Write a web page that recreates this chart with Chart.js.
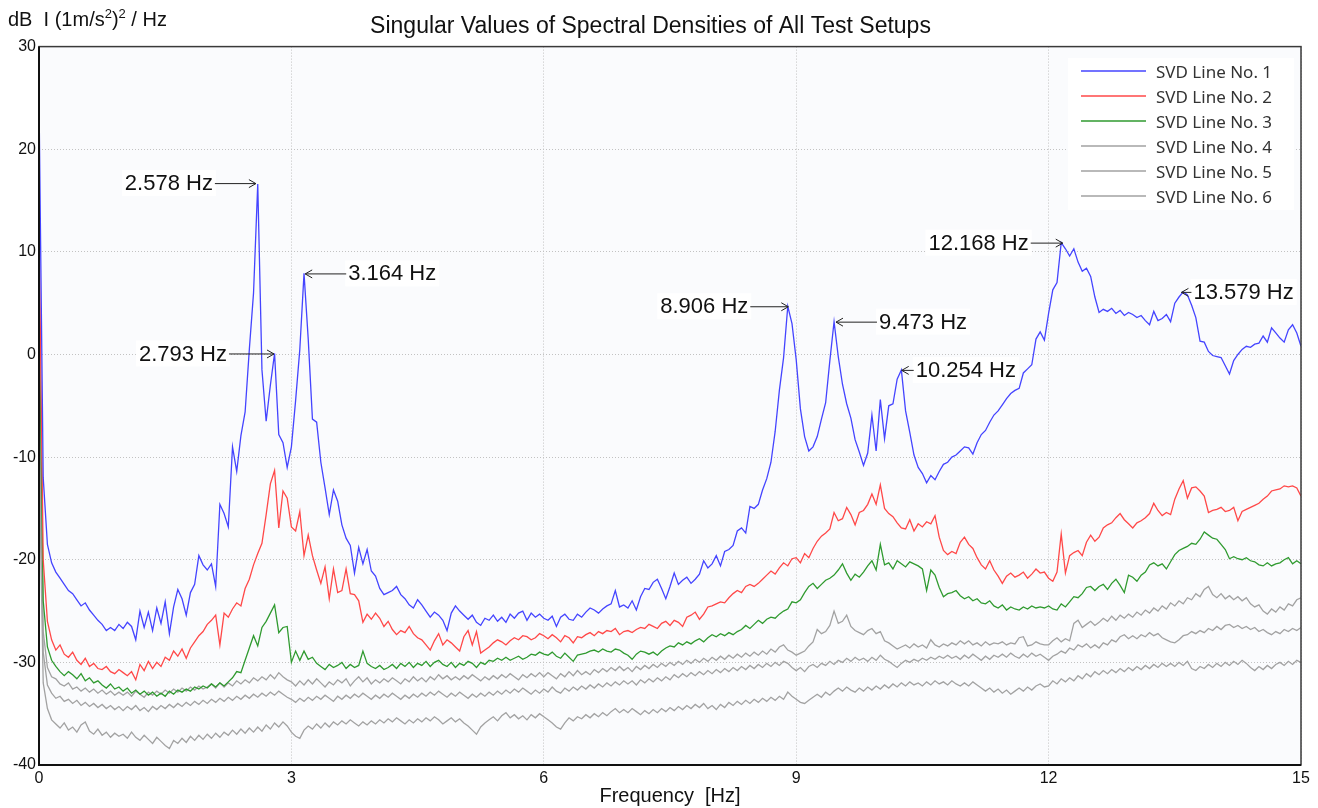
<!DOCTYPE html>
<html>
<head>
<meta charset="utf-8">
<script src="https://cdn.jsdelivr.net/npm/chart.js@4.4.1/dist/chart.umd.min.js"></script>
<style>
  html, body { margin: 0; padding: 0; background: #fff; }
</style>
</head>
<body>
<canvas id="chart" width="1318" height="808"></canvas>
<script>
// spectrum, 0.05 Hz steps, dB re (1 m/s^2)^2 / Hz
chartTitle = 'Singular Values of Spectral Densities of All Test Setups'
seriesNames = ['SVD Line No. 1', 'SVD Line No. 2', 'SVD Line No. 3', 'SVD Line No. 4', 'SVD Line No. 5', 'SVD Line No. 6']

freqs = []
for (let i = 0; i <= 300; i++) freqs.push(+(i * 0.05).toFixed(2))

svdLine1 = [
  25, -12, -18.5, -20.3, -21.2, -21.8, -22.4, -23.0, -23.3, -23.9, -24.5, -24.2, -24.9, -25.4, -25.9, -26.3, -26.9, -26.6, -26.9, -26.3,
  -26.7, -26.1, -26.5, -27.8, -25.0, -26.6, -25.1, -26.9, -24.7, -26.2, -24.1, -27.2, -24.6, -22.9, -23.8, -25.4, -23.2, -22.4, -19.6, -20.5,
  -21.0, -20.4, -22.6, -14.6, -15.5, -16.8, -9.0, -11.4, -7.9, -5.6, 0.5, 6.0, 16.6, -1.5, -6.5, -3.0, 0.1, -7.8, -8.6, -11.0,
  -9.0, -4.5, 0.5, 7.9, 1.5, -6.3, -6.6, -10.5, -13.0, -15.6, -13.2, -14.3, -16.6, -17.9, -18.6, -21.3, -18.8, -20.4, -19.0, -21.1,
  -21.6, -22.8, -23.4, -23.2, -23.0, -22.6, -23.4, -23.8, -24.4, -24.7, -23.9, -24.4, -25.0, -25.6, -25.1, -25.4, -25.9, -26.9, -25.2, -24.5,
  -25.0, -25.4, -25.8, -25.4, -26.1, -26.4, -25.7, -25.9, -25.4, -26.0, -25.6, -26.1, -25.3, -25.7, -25.2, -25.0, -25.9, -25.2, -25.6, -25.3,
  -25.7, -25.9, -25.5, -26.5, -25.6, -25.3, -25.8, -25.9, -25.3, -25.6, -25.1, -24.7, -24.9, -25.2, -24.8, -24.5, -24.3, -23.0, -24.6, -24.4,
  -24.7, -24.0, -24.9, -23.6, -22.8, -22.9, -22.2, -21.9, -22.8, -23.8, -22.6, -21.3, -22.4, -22.0, -21.7, -22.3, -21.9, -21.4, -20.1, -20.8,
  -20.4, -19.6, -20.6, -19.2, -19.0, -18.6, -17.2, -16.9, -17.4, -14.8, -15.0, -14.6, -13.2, -12.1, -10.5, -7.5, -3.5, -0.3, 4.7, 3.0,
  -0.5, -5.3, -8.0, -9.4, -9.0, -8.0, -6.3, -4.7, -0.6, 3.2, -0.2, -2.9, -4.8, -6.2, -8.3, -9.5, -10.8, -9.6, -5.9, -9.4,
  -4.4, -8.2, -5.0, -4.8, -2.4, -1.5, -5.5, -7.6, -9.8, -11.0, -11.6, -12.5, -11.8, -12.2, -11.4, -10.7, -10.5, -10.0, -9.8, -9.4,
  -9.0, -9.1, -9.7, -8.6, -7.8, -7.4, -6.6, -5.9, -5.5, -4.9, -4.3, -3.8, -3.5, -3.3, -1.8, -1.4, -1.0, 1.5, 2.2, 1.4,
  4.0, 6.3, 7.0, 10.9, 10.3, 9.6, 10.3, 9.0, 8.1, 8.4, 7.6, 5.6, 4.1, 4.4, 4.2, 4.5, 4.0, 4.3, 3.8, 4.1,
  3.9, 3.6, 3.8, 3.3, 2.9, 4.2, 3.3, 3.5, 3.9, 3.2, 5.0, 5.6, 6.1, 5.8, 4.8, 3.6, 1.3, 1.2, 0.3, -0.1,
  -0.2, -0.3, -1.1, -1.9, -0.6, 0.0, 0.5, 0.8, 0.7, 1.0, 1.1, 1.8, 1.2, 2.6, 2.1, 1.6, 1.2, 2.4, 2.9, 2.1, 0.8
]

svdLine2 = [
  13, -20, -26, -27.8, -28.8, -28.3, -29.2, -29.5, -29.0, -29.8, -30.2, -29.6, -30.4, -30.1, -30.6, -30.7, -30.4, -30.9, -31.1, -30.7,
  -31.0, -31.3, -30.9, -31.7, -30.2, -30.8, -29.9, -30.6, -30.0, -30.4, -29.5, -29.8, -28.9, -29.4, -28.7, -29.6, -28.6, -28.0, -27.4, -27.0,
  -26.3, -25.9, -25.4, -28.3, -25.2, -25.6, -24.8, -24.2, -24.5, -22.8, -21.9, -20.5, -19.4, -18.4, -15.6, -12.6, -11.3, -16.9, -13.3, -14.0,
  -16.8, -17.2, -15.3, -19.6, -17.6, -19.6, -21.0, -22.3, -20.7, -23.8, -20.9, -23.2, -23.0, -20.9, -23.3, -23.4, -24.0, -26.1, -25.3, -25.8,
  -25.2, -25.7, -26.5, -26.0, -26.8, -27.3, -26.9, -27.1, -26.5, -27.2, -27.6, -27.8, -28.3, -28.8, -27.9, -27.2, -28.3, -27.8, -28.1, -28.5,
  -28.9, -27.5, -26.9, -28.3, -27.0, -29.1, -28.8, -28.5, -28.1, -27.8, -28.0, -28.3, -27.9, -27.6, -27.8, -27.4, -27.5, -27.8, -27.6, -27.2,
  -27.4, -27.7, -27.3, -27.6, -28.0, -27.4, -27.6, -28.1, -27.5, -27.6, -27.3, -27.1, -27.4, -27.0, -27.2, -26.9, -27.0, -26.7, -27.3, -27.0,
  -26.9, -27.1, -26.8, -26.6, -26.7, -26.3, -26.5, -26.7, -26.2, -26.0, -26.4, -25.9, -26.1, -26.5, -25.6, -25.4, -25.1, -25.8, -25.3, -24.6,
  -24.5, -24.3, -24.1, -24.2, -23.7, -23.3, -23.0, -23.2, -22.6, -22.4, -22.6, -22.3, -21.9, -21.5, -21.1, -21.4, -20.8, -20.3, -20.6, -19.9,
  -19.8, -20.3, -19.4, -19.8, -18.9, -18.2, -17.7, -17.4, -17.0, -15.4, -16.2, -16.0, -14.9, -15.6, -16.6, -15.4, -15.2, -14.6, -13.6, -14.6,
  -12.7, -15.0, -15.5, -15.8, -16.4, -16.9, -17.0, -16.1, -17.2, -16.5, -16.8, -16.3, -16.5, -15.7, -17.8, -19.1, -19.5, -19.2, -19.4, -18.3,
  -17.8, -18.5, -18.9, -19.8, -20.5, -20.9, -20.1, -21.0, -21.6, -22.3, -21.6, -21.3, -21.7, -21.5, -21.2, -21.8, -21.4, -20.9, -21.3, -21.2,
  -21.8, -22.1, -21.2, -17.5, -21.3, -19.6, -19.3, -19.1, -19.6, -18.3, -17.6, -18.2, -17.8, -16.9, -16.6, -16.4, -15.9, -15.5, -16.1, -16.5,
  -16.9, -16.4, -16.2, -15.9, -15.5, -14.5, -15.2, -15.7, -15.4, -15.6, -14.1, -13.1, -12.3, -14.0, -13.0, -12.9, -13.3, -13.8, -15.4, -15.2,
  -15.1, -14.9, -15.3, -15.2, -14.9, -16.2, -15.3, -15.1, -14.9, -14.7, -14.5, -14.1, -13.8, -13.3, -13.2, -13.1, -12.8, -12.9, -12.8, -13.0, -13.8
]

svdLine3 = [
  5, -24, -28.5, -29.8, -30.4, -30.9, -31.3, -30.9, -31.2, -31.6, -31.1, -31.8, -31.5, -32.0, -31.8, -32.2, -32.5, -32.1, -32.6, -32.4,
  -32.8, -32.5, -33.0, -32.7, -33.1, -32.8, -33.2, -32.9, -33.3, -33.0, -33.3, -32.8, -33.1, -32.7, -32.9, -32.6, -32.8, -32.4, -32.6, -32.3,
  -32.5, -32.1, -32.4, -32.0, -32.3, -31.9, -31.5, -30.9, -31.0, -29.8, -28.6, -27.4, -28.4, -26.6, -26.0, -25.2, -24.4, -27.1, -26.6, -26.5,
  -30.0, -28.9, -29.8, -28.9, -29.7, -29.5, -30.1, -30.4, -30.7, -30.2, -30.5, -30.3, -30.0, -30.6, -30.2, -30.5, -30.3, -28.9, -30.1, -30.4,
  -30.6, -30.3, -30.7, -30.5, -30.2, -30.6, -30.1, -30.4, -30.0, -30.5, -30.1, -30.3, -29.9, -30.4, -30.0, -29.8, -30.2, -30.4, -30.0, -30.5,
  -30.1, -30.3, -29.9, -30.1, -30.5, -30.0, -30.2, -29.8, -29.9, -29.6, -29.8, -29.5, -29.8, -29.6, -29.4, -29.7, -29.5, -29.2, -29.3, -29.0,
  -29.2, -29.3, -29.0, -29.4, -29.6, -29.1, -29.5, -29.9, -29.3, -29.2, -29.1, -28.9, -28.8, -29.0, -28.7, -28.9, -29.0, -28.7, -28.8, -29.1,
  -29.3, -29.7, -29.2, -28.9, -29.0, -29.2, -29.0, -29.3, -28.9, -28.6, -28.4, -28.5, -28.1, -28.3, -28.0, -28.2, -27.9, -27.7, -28.0, -27.6,
  -27.3, -27.5, -27.2, -27.4, -27.1, -27.3, -27.0, -26.8, -26.4, -26.7, -26.3, -25.9, -26.2, -25.8, -25.6, -25.7, -25.3, -25.0, -24.8, -24.1,
  -24.2, -23.9, -23.2, -22.6, -22.3, -22.8, -22.4, -22.0, -21.8, -21.5, -21.0, -20.4, -21.3, -22.0, -21.4, -21.7, -21.2, -20.6, -20.1, -21.0,
  -18.5, -20.5, -20.3, -20.9, -20.1, -20.4, -20.7, -20.2, -20.4, -20.6, -20.9, -23.0, -21.0, -21.5, -22.7, -23.6, -23.3, -23.2, -23.0, -23.5,
  -23.8, -23.6, -24.0, -23.8, -24.2, -24.3, -24.0, -24.5, -24.7, -24.4, -24.9, -24.6, -24.8, -24.9, -24.6, -24.8, -24.5, -24.7, -24.6, -24.7,
  -24.5, -24.8, -24.9, -24.3, -24.6, -24.1, -23.6, -23.7, -23.3, -22.7, -22.6, -23.0, -22.6, -22.4, -22.9, -22.3, -21.9, -22.5, -23.2, -21.5,
  -21.7, -22.1, -21.5, -21.2, -20.5, -20.3, -20.6, -20.4, -20.9, -20.2, -19.5, -19.1, -18.9, -18.7, -18.4, -18.5, -18.0, -17.3, -17.6, -17.9,
  -18.0, -18.5, -19.0, -19.9, -19.7, -19.9, -20.0, -19.8, -20.1, -20.2, -20.5, -20.6, -20.3, -20.6, -20.4, -20.3, -20.0, -19.8, -20.4, -20.1, -20.4
]

svdLine4 = [
  0, -27, -30.5, -31.4, -31.6, -32.1, -32.3, -32.0, -32.6, -32.4, -32.8, -32.5, -32.9, -32.6, -33.0, -32.7, -33.1, -32.8, -33.2, -32.9,
  -33.2, -32.9, -33.3, -32.8, -33.1, -33.4, -32.9, -33.2, -32.8, -33.1, -32.7, -33.0, -32.6, -32.9, -32.5, -32.8, -32.4, -32.7, -32.3, -32.6,
  -32.4, -32.1, -32.5, -32.0, -32.4, -32.0, -32.3, -31.8, -32.1, -31.7, -32.0, -31.5, -31.8, -31.4, -31.7, -31.2, -31.6, -31.0, -31.4, -31.7,
  -31.9, -32.3, -31.8, -32.2, -31.7, -32.1, -31.6, -32.0, -32.4, -31.9, -32.2, -31.7, -32.0, -31.6, -32.3, -31.8, -31.4, -31.9, -31.5, -32.1,
  -31.7, -32.0, -31.6, -31.9, -31.5, -31.8, -32.1, -31.6, -31.9, -31.4, -31.8, -31.5, -31.9, -31.4, -31.7, -31.2, -31.6, -31.3, -31.7, -31.4,
  -31.7, -31.3, -31.6, -31.2, -31.5, -31.8, -31.4, -31.7, -31.3, -31.6, -31.2, -31.5, -31.1, -31.4, -31.7, -31.2, -31.5, -31.1, -31.4, -31.0,
  -31.4, -31.0, -31.3, -31.6, -31.1, -31.4, -30.9, -31.3, -30.8, -31.2, -30.9, -31.2, -30.7, -31.0, -30.6, -30.9, -30.5, -30.8, -30.4, -30.8,
  -30.5, -30.9, -30.4, -30.7, -30.3, -30.6, -30.2, -30.5, -30.1, -30.4, -30.0, -30.3, -29.9, -30.2, -29.8, -30.1, -29.7, -30.0, -29.6, -29.9,
  -29.5, -29.8, -29.4, -29.7, -29.3, -29.6, -29.2, -29.5, -29.1, -29.4, -29.0, -29.3, -28.9, -29.2, -28.7, -29.0, -28.5, -28.3, -28.8, -29.0,
  -29.3, -29.1, -28.9, -28.4, -28.0, -26.8, -27.2, -27.0, -26.4, -25.0, -26.2, -26.0, -25.4, -26.5, -26.9, -27.1, -27.3, -26.9, -26.7, -27.2,
  -27.0, -27.9, -28.1, -28.4, -28.7, -28.5, -28.3, -28.6, -28.2, -28.5, -28.3, -28.6, -27.8, -28.3, -28.5, -28.2, -28.4, -28.1, -28.3, -27.9,
  -28.2, -27.9, -28.3, -28.1, -28.4, -28.0, -28.3, -28.1, -28.2, -28.0, -28.3, -28.1, -28.2, -27.6, -27.5, -28.4, -28.3, -28.0, -28.2, -28.3,
  -28.3, -27.9, -27.6, -28.0, -27.7, -27.9, -26.2, -25.9, -26.6, -26.3, -26.0, -26.4, -26.1, -25.7, -26.0, -25.5, -25.9, -25.4, -25.7, -25.3,
  -25.6, -25.1, -25.4, -24.9, -25.2, -24.7, -25.0, -24.5, -24.8, -24.2, -24.5, -24.0, -24.3, -23.7, -23.9, -23.3, -23.6, -22.9, -22.6, -23.4,
  -23.7, -23.3, -23.8, -23.5, -23.9, -23.6, -24.0, -23.7, -24.3, -24.6, -24.4, -25.0, -25.3, -24.8, -25.1, -24.6, -24.9, -24.3, -24.5, -23.9, -23.7
]

svdLine5 = [
  -5, -29, -32.2, -33.0, -33.5, -33.3, -33.8, -33.6, -34.0, -33.7, -34.2, -33.9, -34.3, -34.0, -34.4, -34.1, -34.5, -34.2, -34.6, -34.3,
  -34.7, -34.3, -34.6, -34.2, -34.7, -34.4, -34.8, -34.3, -34.6, -34.2, -34.5, -34.1, -34.4, -34.0, -34.3, -33.9, -34.2, -33.8, -34.1, -33.7,
  -34.0, -33.6, -33.9, -33.5, -33.8, -33.4, -33.7, -33.3, -33.6, -33.2, -33.5, -33.1, -33.4, -33.0, -33.3, -32.9, -33.2, -32.8, -33.1, -33.4,
  -33.6, -33.9, -33.5, -33.8, -33.4, -33.7, -33.3, -33.6, -33.2, -33.5, -33.8, -33.3, -33.6, -33.2, -33.5, -33.1, -33.4, -33.0, -33.3, -33.6,
  -33.2, -33.5, -33.1, -33.4, -33.0, -33.3, -33.6, -33.2, -33.5, -33.1, -33.4, -33.0, -33.3, -32.9, -33.2, -32.8, -33.1, -33.4, -33.0, -33.3,
  -32.9, -33.2, -33.5, -33.1, -33.4, -33.0, -33.3, -32.9, -33.2, -32.8, -33.1, -32.7, -33.0, -32.6, -32.9, -32.5, -32.8, -33.1, -32.7, -33.0,
  -32.6, -32.9, -32.4, -32.8, -33.0, -32.5, -32.8, -32.4, -32.7, -32.3, -32.6, -32.2, -32.5, -32.1, -32.4, -32.0, -32.3, -31.9, -32.2, -31.8,
  -32.1, -31.8, -32.2, -31.7, -32.0, -31.6, -31.9, -31.5, -31.8, -31.4, -31.7, -31.2, -31.5, -31.1, -31.4, -31.0, -31.3, -30.9, -31.2, -30.8,
  -31.1, -30.7, -31.0, -30.6, -30.9, -30.5, -30.8, -30.4, -30.7, -30.3, -30.6, -30.2, -30.5, -30.1, -30.4, -30.0, -30.3, -29.9, -30.1, -30.5,
  -30.8, -30.5, -30.9, -30.4, -30.2, -30.5, -30.1, -30.3, -29.9, -30.2, -29.8, -30.0, -29.6, -29.9, -29.5, -29.8, -29.6, -29.9, -29.5, -29.8,
  -29.3, -29.7, -29.9, -30.2, -30.5, -30.1, -29.8, -30.0, -29.7, -29.9, -29.6, -29.8, -29.5, -29.7, -29.4, -29.6, -29.3, -29.6, -29.4, -29.7,
  -29.3, -29.6, -29.2, -29.5, -29.8, -29.4, -29.7, -29.3, -29.5, -29.2, -29.5, -29.1, -29.4, -29.6, -29.2, -29.5, -29.1, -29.4, -29.2, -29.5,
  -29.8, -29.4, -29.2, -28.9, -29.1, -28.6, -28.8, -28.3, -28.5, -28.2, -28.6, -28.3, -28.6, -28.1, -28.3, -27.8, -28.0, -27.5, -27.3, -27.7,
  -27.4, -27.7, -27.3, -27.5, -27.1, -27.4, -27.2, -27.6, -27.8, -28.0, -28.1, -27.8, -27.4, -27.3, -27.0, -27.2, -26.9, -27.1, -26.7, -26.9,
  -26.5, -26.8, -26.4, -26.3, -26.6, -26.4, -26.7, -26.5, -26.8, -26.6, -27.0, -26.8, -27.1, -27.3, -27.0, -27.2, -26.8, -27.0, -26.7, -26.9, -26.6
]

svdLine6 = [
  -10, -32, -34.5, -35.6, -36.0, -36.4, -35.9, -36.6, -36.3, -36.8, -36.1, -35.8, -36.7, -37.0, -36.5, -37.1, -36.8, -37.3, -36.9, -37.2,
  -37.0, -37.4, -36.8, -37.3, -37.6, -37.1, -37.5, -37.9, -37.3, -37.7, -38.1, -38.4, -37.6, -37.9, -37.4, -37.8, -37.2, -37.6, -37.1, -37.5,
  -37.0, -37.4, -36.9, -37.3, -36.8, -37.1, -36.6, -37.0, -36.5, -36.9, -36.4, -36.8, -36.3, -36.7, -36.1, -36.5, -35.9, -36.3, -35.8, -36.2,
  -36.8, -37.2, -37.4, -36.6, -36.2, -36.5, -36.0, -36.4, -35.9, -36.3, -35.8, -36.1, -35.7, -36.0, -35.6, -35.9, -36.2, -35.8, -36.1, -35.7,
  -36.0, -35.6, -35.9, -35.5, -35.8, -35.4, -35.7, -36.0, -35.6, -35.9, -35.5, -35.8, -35.4, -35.7, -35.3, -35.6, -36.0, -35.7, -35.4, -35.8,
  -35.5, -35.9, -36.2, -36.6, -37.0, -36.3, -35.9, -35.6, -35.3, -35.7, -35.2, -34.9, -35.4, -35.1, -35.5, -35.2, -35.6, -35.1, -35.4, -35.0,
  -35.3, -35.6, -35.9, -36.3, -36.5, -35.9, -35.4, -35.7, -35.3, -35.5, -35.1, -35.4, -35.0, -35.3, -34.9, -35.2, -34.8, -34.5, -34.9, -34.6,
  -34.9, -34.5, -34.8, -35.1, -34.7, -35.0, -34.6, -34.9, -34.5, -34.8, -34.4, -34.7, -34.3, -34.6, -34.2, -34.5, -34.1, -34.4, -34.0, -34.5,
  -34.2, -34.6, -34.1, -34.4, -33.9, -34.2, -33.8, -34.1, -33.7, -34.0, -33.6, -33.9, -33.5, -33.8, -33.4, -33.7, -33.3, -33.6, -32.9, -33.3,
  -33.6, -33.9, -34.0, -33.7, -33.4, -33.1, -33.4, -32.9, -33.2, -32.8, -32.5, -32.8, -32.4, -32.7, -32.9, -32.5, -32.8, -32.4, -32.7, -32.3,
  -32.6, -32.2, -32.5, -32.1, -32.4, -32.0, -32.3, -31.9, -32.2, -32.0, -32.3, -31.9, -32.2, -31.8, -32.1, -31.9, -32.2, -31.8, -32.1, -32.3,
  -32.0, -32.3, -31.9, -32.2, -32.5, -32.8, -32.5, -32.9, -32.6, -33.0, -32.7, -33.1, -32.8, -32.5, -32.8, -32.4, -32.7, -32.3, -32.1, -32.4,
  -32.3, -31.8, -32.1, -31.6, -31.9, -31.5, -31.8, -31.3, -31.6, -31.1, -31.4, -30.9, -31.2, -30.8, -31.1, -30.7, -31.0, -30.6, -30.9, -30.5,
  -30.8, -30.4, -30.7, -30.3, -30.6, -30.2, -30.5, -30.1, -30.4, -30.1, -30.4, -30.0, -30.3, -29.9, -30.6, -30.8, -30.4, -30.6, -30.2, -30.5,
  -30.1, -30.4, -30.0, -30.3, -29.9, -30.2, -29.8, -30.1, -30.5, -30.8, -30.4, -30.7, -30.3, -30.6, -30.2, -30.0, -30.3, -29.9, -30.2, -29.8, -30.0
]

// picked peaks
peakLabels = ['2.578 Hz', '2.793 Hz', '3.164 Hz', '8.906 Hz', '9.473 Hz', '10.254 Hz', '12.168 Hz', '13.579 Hz']
peakFreqs = [2.578, 2.793, 3.164, 8.906, 9.473, 10.254, 12.168, 13.579]
peakLevels = [16.7, 0.1, 7.9, 4.7, 3.2, -1.5, 10.9, 6.1]

lineColors = ['#4444ff', '#ff4848', '#2f9a2f', '#a2a2a2', '#a2a2a2', '#a2a2a2']
// where each peak label sits relative to its arrow
arrowSide = ['left', 'left', 'right', 'left', 'right', 'right', 'left', 'right']
arrowLen = [41, 45, 41, 38, 41, 12, 32, 10]

var FONT = '"Liberation Sans", Arial, sans-serif'

var allSeries = [svdLine1, svdLine2, svdLine3, svdLine4, svdLine5, svdLine6]
var datasets = allSeries.map(function (vals, k) {
	return {
		label: seriesNames[k],
		data: vals.map(function (v, i) { return {x: freqs[i], y: v} }),
		borderColor: lineColors[k],
		borderWidth: 1.3,
		pointRadius: 0,
		tension: 0,
		fill: false
	}
})

function labelBox(ctx, x, y, i) {
	var tx = x.getPixelForValue(peakFreqs[i])
	var ty = y.getPixelForValue(peakLevels[i])
	var dir = arrowSide[i] == 'left' ? -1 : 1
	var tail = tx + dir * arrowLen[i]
	ctx.font = '22px ' + FONT
	var w = ctx.measureText(peakLabels[i]).width
	var textX = dir < 0 ? tail - 2 - w : tail + 2
	return {tx: tx, ty: ty, dir: dir, tail: tail, w: w, textX: textX}
}

var decorations = {
	id: 'decorations',
	beforeDraw: function (chart) {
		var ctx = chart.ctx, a = chart.chartArea
		ctx.save()
		ctx.fillStyle = '#ffffff'
		ctx.fillRect(0, 0, chart.width, chart.height)
		ctx.fillStyle = '#fafbfd'
		ctx.fillRect(a.left, a.top, a.right - a.left, a.bottom - a.top)
		ctx.restore()
	},
	beforeDatasetsDraw: function (chart) {
		// white patches behind labels and legend hide the grid
		var ctx = chart.ctx, x = chart.scales.x, y = chart.scales.y
		ctx.save()
		ctx.fillStyle = '#ffffff'
		for (var i = 0; i < peakFreqs.length; i++) {
			var b = labelBox(ctx, x, y, i)
			ctx.fillRect(b.textX - 3, b.ty - 13, b.w + 6, 26)
		}
		ctx.fillRect(1068, 58, 226, 152)
		ctx.restore()
	},
	afterDatasetsDraw: function (chart) {
		var ctx = chart.ctx, a = chart.chartArea, x = chart.scales.x, y = chart.scales.y
		ctx.save()

		// frame
		ctx.strokeStyle = '#3a3a3a'
		ctx.lineWidth = 1.5
		ctx.strokeRect(a.left, a.top, a.right - a.left, a.bottom - a.top)
		ctx.strokeStyle = '#111'
		ctx.lineWidth = 2
		ctx.beginPath()
		ctx.moveTo(a.left, a.top)
		ctx.lineTo(a.left, a.bottom)
		ctx.lineTo(a.right, a.bottom)
		ctx.stroke()

		// peak labels with arrows
		for (var i = 0; i < peakFreqs.length; i++) {
			var b = labelBox(ctx, x, y, i)
			ctx.fillStyle = '#111'
			ctx.textAlign = 'left'
			ctx.textBaseline = 'middle'
			ctx.fillText(peakLabels[i], b.textX, b.ty + 1)
			ctx.strokeStyle = '#222'
			ctx.lineWidth = 1
			ctx.beginPath()
			ctx.moveTo(b.tail, b.ty + 0.5)
			ctx.lineTo(b.tx, b.ty + 0.5)
			ctx.moveTo(b.tx + b.dir * 7, b.ty - 3.5)
			ctx.lineTo(b.tx, b.ty + 0.5)
			ctx.lineTo(b.tx + b.dir * 7, b.ty + 4.5)
			ctx.stroke()
		}

		// legend
		ctx.font = '17px "Noto Sans", "Open Sans", sans-serif'
		ctx.textBaseline = 'middle'
		for (var k = 0; k < seriesNames.length; k++) {
			var ly = 71 + k * 25
			ctx.strokeStyle = lineColors[k]
			ctx.lineWidth = 1.5
			ctx.beginPath()
			ctx.moveTo(1081, ly)
			ctx.lineTo(1146, ly)
			ctx.stroke()
			ctx.fillStyle = '#333'
			ctx.fillText(seriesNames[k], 1156, ly + 2)
		}

		// unit label top-left, with superscripts
		var ux = 8, uy = 26
		var parts = [['dB  I (1m/s', false], ['2', true], [')', false], ['2', true], [' / Hz', false]]
		ctx.fillStyle = '#111'
		ctx.textBaseline = 'alphabetic'
		for (var p of parts) {
			ctx.font = (p[1] ? '13px ' : '20px ') + FONT
			ctx.fillText(p[0], ux, p[1] ? uy - 8 : uy)
			ux += ctx.measureText(p[0]).width
		}
		ctx.restore()
	}
}

var chrt = document.getElementById('chart').getContext('2d')
var chartId = new Chart(chrt, {
	type: 'line',
	data: { datasets: datasets },
	options: {
		responsive: false,
		animation: false,
		layout: { padding: { left: 0, right: 17, top: 0, bottom: 0 } },
		plugins: {
			legend: { display: false },
			tooltip: { enabled: false },
			title: {
				display: true,
				text: chartTitle,
				color: '#111',
				font: { family: FONT, size: 23, weight: 'normal' },
				lineHeight: 1.15,
				padding: { top: 13, bottom: 6 }
			}
		},
		scales: {
			x: {
				type: 'linear',
				min: 0,
				max: 15,
				afterFit: function (s) { s.height = 43 },
				ticks: { stepSize: 3, padding: 4, maxRotation: 0, color: '#111', font: { family: FONT, size: 16 } },
				grid: { color: '#c2c2c2', lineWidth: 1, drawTicks: false },
				border: { display: false, dash: [1, 2] },
				title: { display: true, text: 'Frequency  [Hz]', color: '#111', font: { family: FONT, size: 20 }, padding: 0 }
			},
			y: {
				min: -40,
				max: 30,
				afterFit: function (s) { s.width = 39 },
				ticks: { stepSize: 10, padding: 3, color: '#111', font: { family: FONT, size: 16 } },
				grid: { color: '#c2c2c2', lineWidth: 1, drawTicks: false },
				border: { display: false, dash: [1, 2] }
			}
		}
	},
	plugins: [decorations]
})
</script>
</body>
</html>
